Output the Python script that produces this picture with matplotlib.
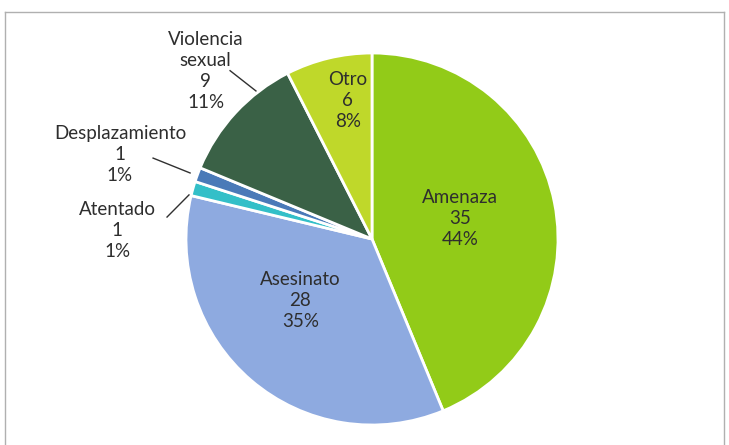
import matplotlib
matplotlib.use("Agg")
import matplotlib.pyplot as plt
from matplotlib.lines import Line2D

plt.rcParams["font.family"] = ["Lato", "DejaVu Sans"]

categorias = ["Amenaza", "Asesinato", "Atentado", "Desplazamiento", "Violencia\nsexual", "Otro"]
valores = [35, 28, 1, 1, 9, 6]
colores = ["#92cb18", "#8eaae0", "#33bfc8", "#4a7ab8", "#3a6146", "#bfd82a"]

total = sum(valores)

# posiciones de etiquetas (unidades de radio) y líneas guía
pos_etiquetas = [(0.475, 0.11), (-0.385, -0.33), (-1.37, 0.045),
                 (-1.355, 0.455), (-0.895, 0.905), (-0.13, 0.745)]
guias = {2: [(-1.102, 0.118), (-0.984, 0.237)],
         3: [(-1.177, 0.435), (-0.978, 0.355)],
         4: [(-0.763, 0.905), (-0.624, 0.796)]}

fig = plt.figure(figsize=(7.29, 4.45), dpi=100)
ax = fig.add_axes([0, 0, 1, 1])
ax.pie(valores, colors=colores, startangle=90, counterclock=False, radius=1,
       wedgeprops=dict(edgecolor="white", linewidth=2))

for i, (cat, v) in enumerate(zip(categorias, valores)):
    x, y = pos_etiquetas[i]
    ax.text(x, y, f"{cat}\n{v}\n{100*v/total:.0f}%", ha="center", va="center",
            fontsize=13.5, color="#2e2e2e", linespacing=1.28)
for (x0, y0), (x1, y1) in guias.values():
    ax.plot([x0, x1], [y0, y1], color="#303030", lw=1)

R = 186
ax.set_xlim(-372 / R, (729 - 372) / R)
ax.set_ylim(-(445 - 239) / R, 239 / R)
ax.set_aspect("equal", adjustable="datalim")
ax.axis("off")

# marco exterior
W, H = 729, 445
for xs, ys in [([5, 5], [0, H - 12]), ([5, 724], [H - 12, H - 12]), ([724, 724], [0, H - 12])]:
    fig.add_artist(Line2D([x / W for x in xs], [y / H for y in ys], transform=fig.transFigure,
                          color="#b0b0b0", lw=1))

fig.savefig("out.png", dpi=100)
